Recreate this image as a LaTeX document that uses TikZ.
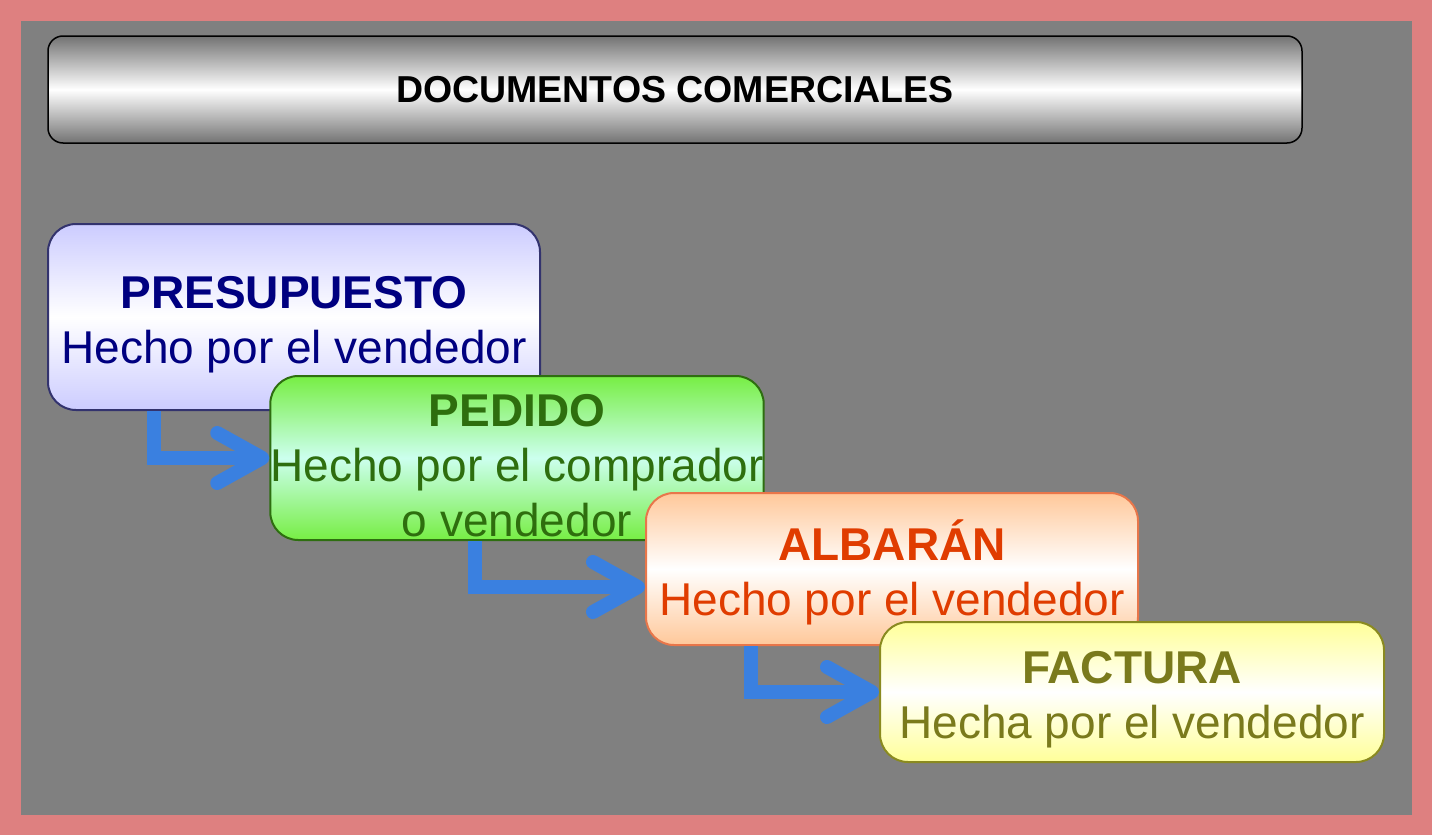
\documentclass[tikz,border=0pt]{standalone}
\usepackage{fontspec}
\setmainfont{Liberation Sans}
\usetikzlibrary{arrows.meta}

\definecolor{framepink}{HTML}{DE8080}
\definecolor{bggray}{HTML}{808080}
\definecolor{flowblue}{HTML}{3A80E0}
\definecolor{presline}{HTML}{33336E}
\definecolor{presfill}{HTML}{CCCCFF}
\definecolor{presink}{HTML}{000080}
\definecolor{pedline}{HTML}{2E6E10}
\definecolor{pedfill}{HTML}{77EE44}
\definecolor{pedmid}{HTML}{CCFFEE}
\definecolor{pedink}{HTML}{2E6E0E}
\definecolor{albline}{HTML}{E8764A}
\definecolor{albfill}{HTML}{FFC89A}
\definecolor{albink}{HTML}{E03C00}
\definecolor{factline}{HTML}{8A8A20}
\definecolor{factfill}{HTML}{FFFF99}
\definecolor{factink}{HTML}{7A7A1C}

% pushes the text of a box a little down
\newcommand{\headstrut}{\rule{0pt}{47pt}}

\tikzset{
  docbox/.style={draw, line width=2pt, rounded corners=28pt, minimum width=492pt,
    align=center, inner sep=0pt, font=\fontsize{46}{55}\selectfont},
  flow/.style={draw=flowblue, line width=14pt,
    -{Straight Barb[length=45pt,width=50pt,round]}},
}

\begin{document}
\begin{tikzpicture}[x=1pt,y=-1pt]
            % Frame and background
            \fill[framepink] (0,0) rectangle (1432,835);
            \fill[bggray] (21,21) rectangle (1412,815);

            % Title bar
            \node[draw, line width=1.5pt, rounded corners=15pt, minimum width=1254pt,
                  minimum height=107pt, top color=black!55, bottom color=black!55,
                  middle color=white, font=\fontsize{37.5}{44}\selectfont\bfseries]
                  (title) at (675,89.5) {DOCUMENTOS COMERCIALES};

            % First stage
            \node[docbox, draw=presline, top color=presfill, bottom color=presfill,
                  middle color=white, text=presink, minimum height=186pt]
                  (pres) at (294,317) {\headstrut\textbf{PRESUPUESTO}\\Hecho por el vendedor};

            % Second stage
            \node[docbox, draw=pedline, top color=pedfill, bottom color=pedfill,
                  middle color=pedmid, text=pedink, minimum height=164pt]
                  (ped) at (517,458) {\headstrut\textbf{PEDIDO}\\Hecho por el comprador\\o vendedor};
            \draw[flow] ([xshift=107pt]pres.south west) |- (ped.west);

            % Third stage
            \node[docbox, draw=albline, top color=albfill, bottom color=albfill,
                  middle color=white, text=albink, minimum height=152pt]
                  (alb) at (892,569) {\headstrut\textbf{ALBARÁN}\\Hecho por el vendedor};
            \draw[flow] ([xshift=206pt]ped.south west) |- ([yshift=-18pt]alb.west);

            % Fourth stage
            \node[docbox, draw=factline, top color=factfill, bottom color=factfill,
                  middle color=white, text=factink, minimum width=504pt, minimum height=140pt]
                  (fact) at (1132,692) {\headstrut\textbf{FACTURA}\\Hecha por el vendedor};
            \draw[flow] ([xshift=106pt]alb.south west) |- (fact.west);
\end{tikzpicture}
\end{document}
